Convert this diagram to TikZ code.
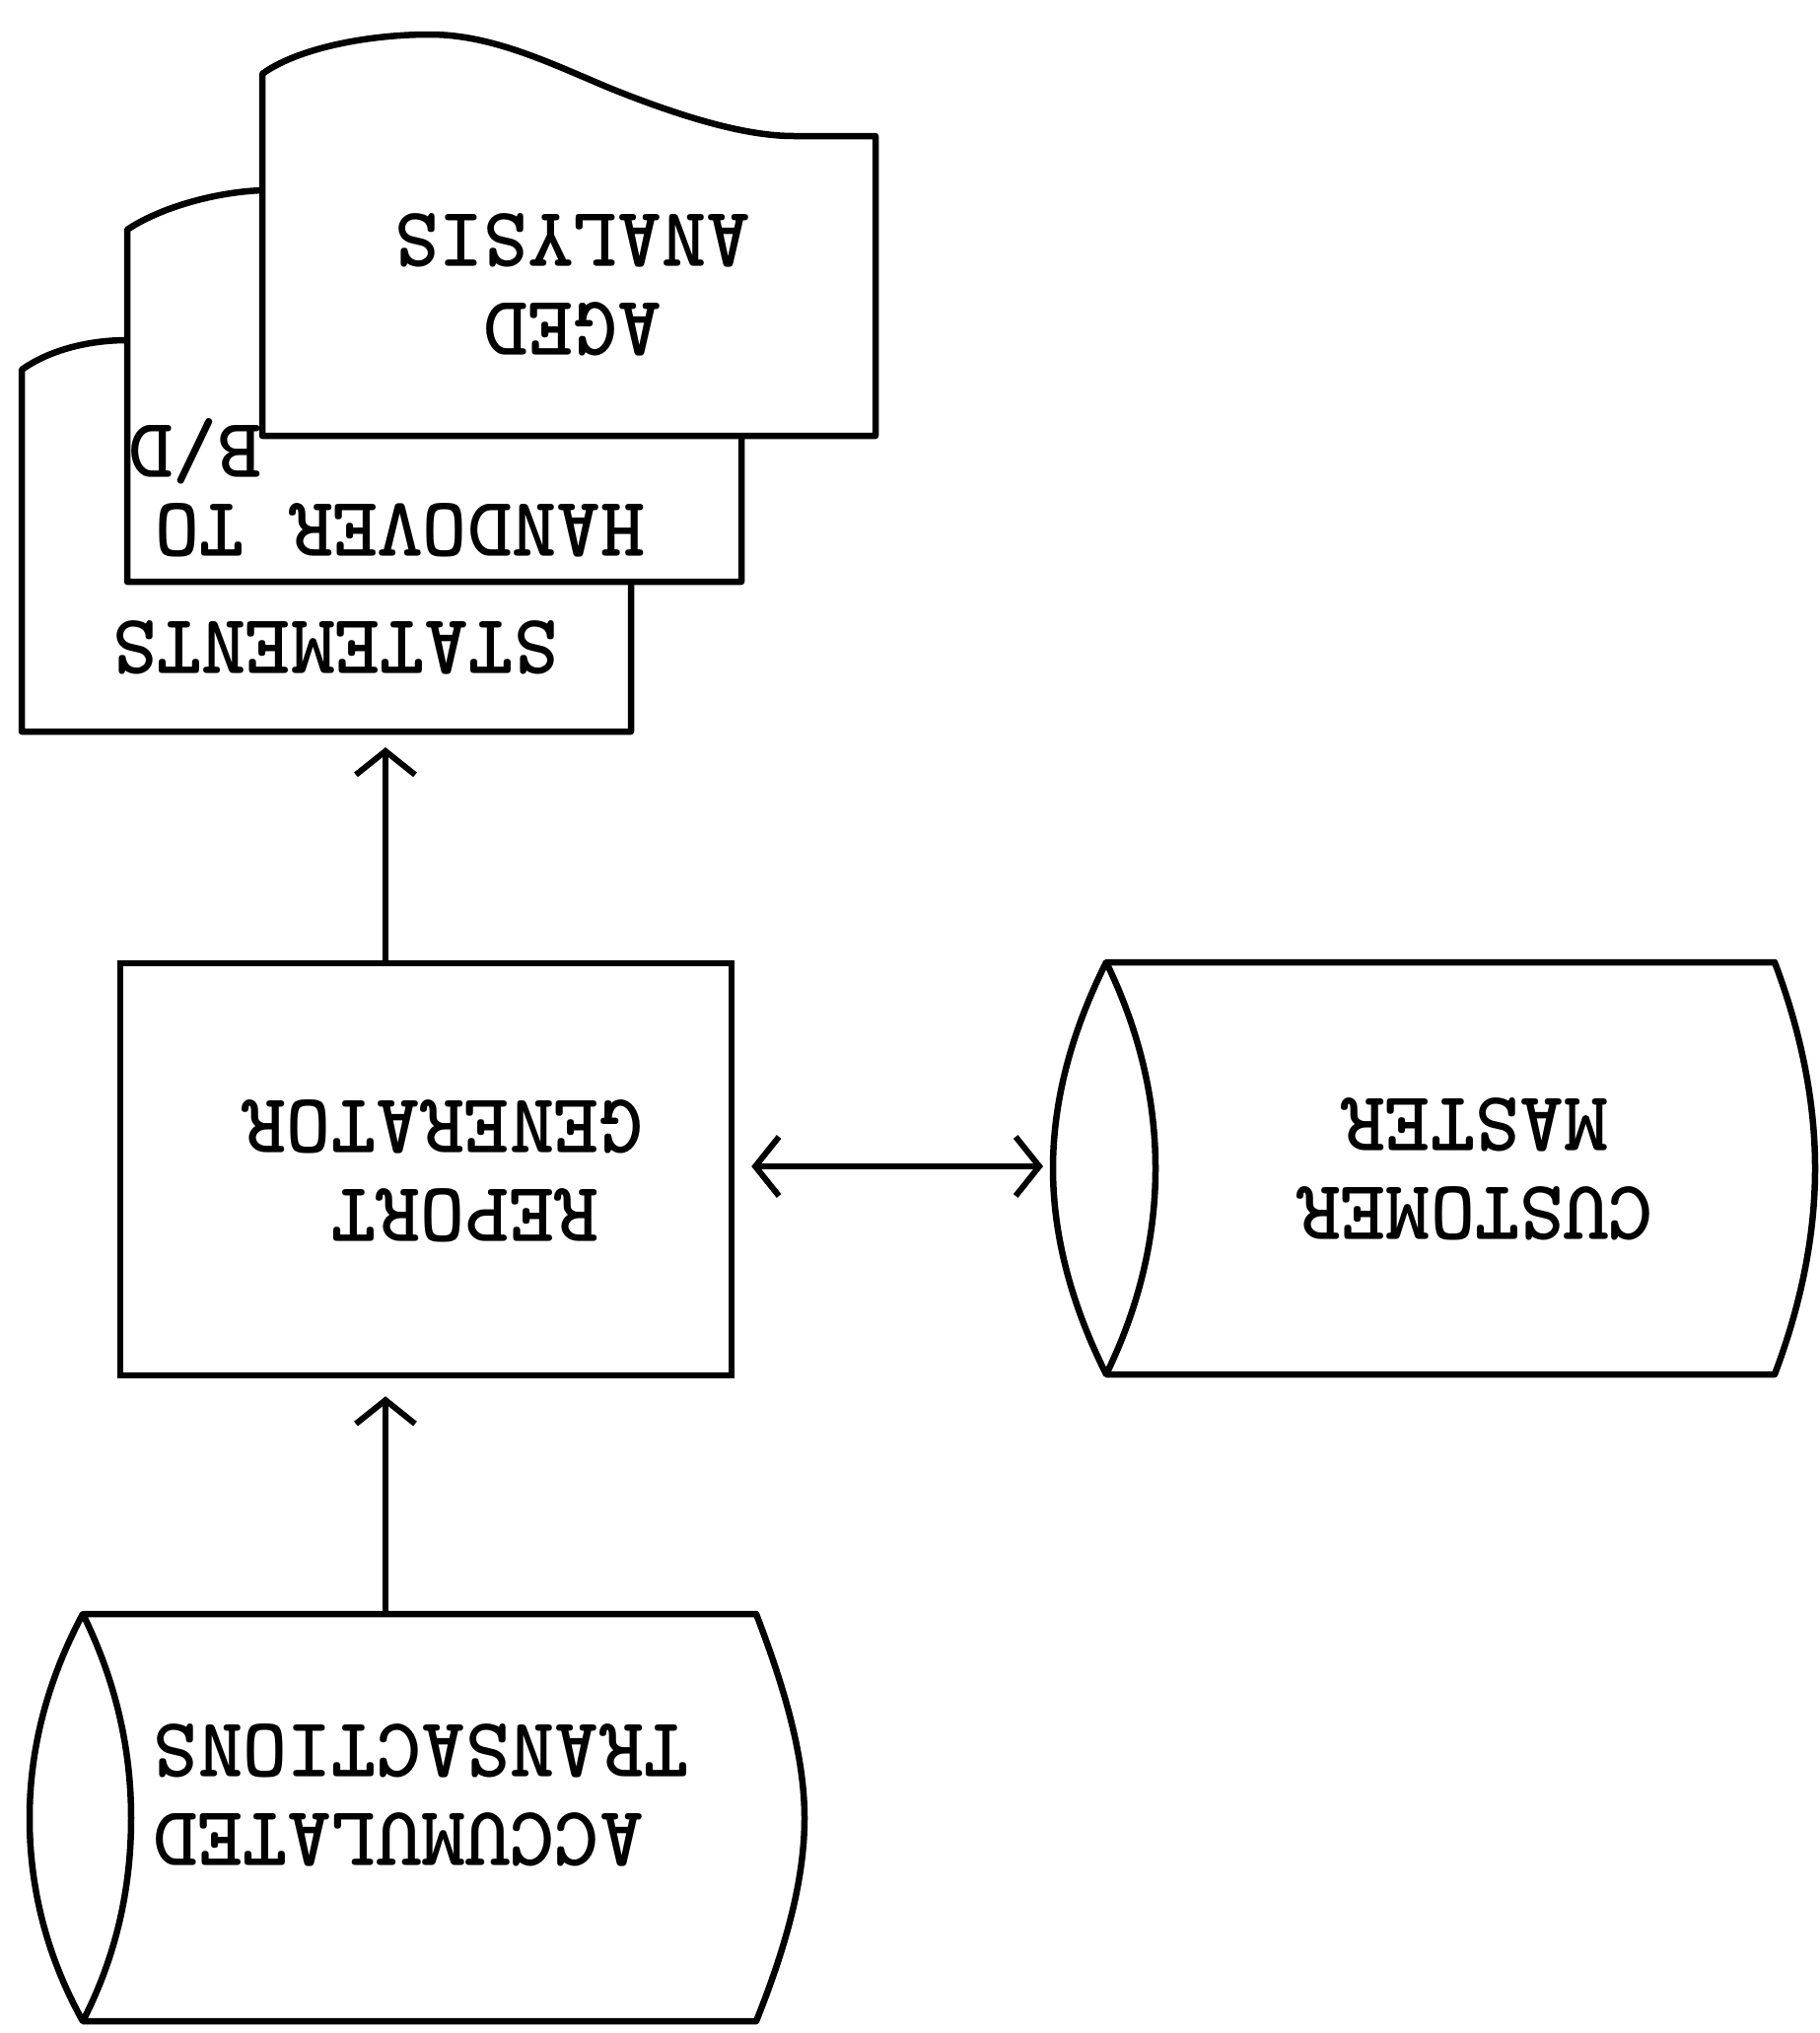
\documentclass[tikz,border=0pt]{standalone}
\usepackage{fontspec}
\usetikzlibrary{arrows.meta}
\begin{document}
\begin{tikzpicture}[x=0.1mm,y=-0.1mm]
\tikzset{
 shp/.style={line width=0.65mm, fill=white, line join=round},
 lbl/.style={rotate=180, font=\ttfamily\bfseries\fontsize{24.5}{25.6}\selectfont, inner sep=0pt},
 conn/.style={line width=0.6mm, -{Straight Barb[length=2.4mm, width=6mm]}},
 conn2/.style={line width=0.6mm, {Straight Barb[length=2.4mm, width=6mm]}-{Straight Barb[length=2.4mm, width=6mm]}},
}
\useasboundingbox (0,0) rectangle (1845,2062);
% documents
\draw[shp] (22,742) -- (22,375) .. controls (50,355) and (90,345) .. (129,345) -- (640,345) -- (640,742) -- cycle;
\draw[shp] (129,590) -- (129,233) .. controls (160,212) and (215,195) .. (266,193) -- (752,193) -- (752,590) -- cycle;
\draw[shp] (266,442) -- (266,75) .. controls (300,50) and (370,35) .. (436,35) .. controls (500,35) and (560,65) .. (620,90) .. controls (700,122) and (760,138) .. (805,138) -- (888,138) -- (888,442) -- cycle;
\node[lbl, align=center] (agedtxt) at (581,289) {AGED\\ANALYSIS};
\node[lbl] (hotxt) at (406,538) {HANDOVER TO};
\node[lbl] (bdtxt) at (198,458) {B/D};
\node[lbl] (stmtxt) at (340,657) {STATEMENTS};
% report generator
\node[draw, line width=0.65mm, minimum width=62mm, minimum height=41.8mm] (rg) at (432,1186) {};
\node[lbl, align=left] (rgtxt) at (449,1188) {\hphantom{R}REPORT\\GENERATOR};
% customer master
\draw[shp] (1122,976) -- (1800,976) .. controls (1828,1050) and (1841,1120) .. (1841,1185) .. controls (1841,1250) and (1828,1320) .. (1800,1394) -- (1122,1394) .. controls (1085,1320) and (1068,1250) .. (1068,1185) .. controls (1068,1120) and (1085,1050) .. (1122,976) -- cycle;
\draw[shp] (1122,976) .. controls (1158,1050) and (1172,1120) .. (1172,1185) .. controls (1172,1250) and (1158,1320) .. (1122,1394);
\node[lbl, align=center] (cmtxt) at (1496,1186) {CUSTOMER\\MASTER};
% accumulated transactions
\draw[shp] (84,1637) -- (767,1637) .. controls (795,1710) and (816,1780) .. (816,1844) .. controls (816,1910) and (795,1980) .. (767,2050) -- (84,2050) .. controls (45,1980) and (30,1910) .. (30,1844) .. controls (30,1780) and (45,1710) .. (84,1637) -- cycle;
\draw[shp] (84,1637) .. controls (120,1710) and (133,1780) .. (133,1844) .. controls (133,1910) and (120,1980) .. (84,2050);
\node[lbl, align=right] (attxt) at (427,1821) {ACCUMULATED\\TRANSACTIONS};
% connectors
\coordinate (stmB) at (391,742);
\coordinate (accT) at (391,1637);
\coordinate (cmL) at (1068,1183);
\draw[conn, shorten >=1.6mm] (rg.north -| stmB) -- (stmB);
\draw[conn, shorten >=1.8mm] (accT) -- (accT |- rg.south);
\draw[conn2, shorten <=1.7mm, shorten >=1.0mm] (rg.east |- cmL) -- (cmL);
\end{tikzpicture}
\end{document}
